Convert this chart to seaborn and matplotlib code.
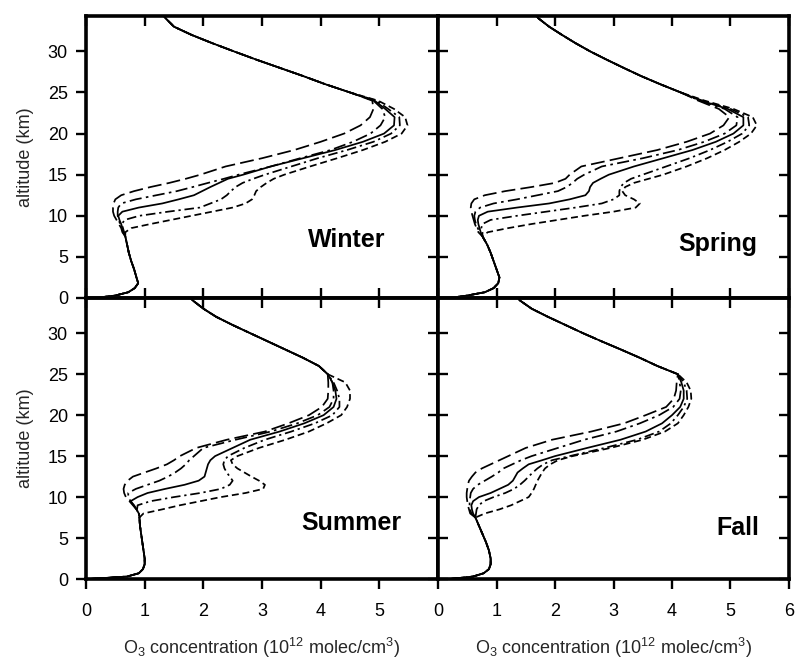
import matplotlib
matplotlib.use("Agg")
import matplotlib.pyplot as plt
import numpy as np
import pandas as pd
import seaborn as sns

# ---------------- data ----------------
seasons = ["Winter", "Spring", "Summer", "Fall"]
line_ids = ["L1", "L2", "L3", "L4", "L5"]

low_alt = [0, 0.3, 0.7, 1.2, 1.8, 2.5, 3.5, 4.5, 5.5, 6.5, 7.5]
mid_alt = [8, 8.5, 9, 9.5, 10, 10.5, 11, 11.5, 12, 12.5, 13, 13.5, 14, 14.5,
           15, 16, 17, 18, 19, 20, 21, 22, 23, 24]
up_alt = [25, 26, 27, 28, 29, 30, 31, 32, 33, 34, 35]

# Winter
winter_low = [0.15, 0.5, 0.72, 0.83, 0.89, 0.86, 0.82, 0.77, 0.73, 0.7, 0.67]
winter_l1 = [0.62, 0.6, 0.56, 0.52, 0.48, 0.46, 0.46, 0.47, 0.5, 0.6, 0.82, 1.1,
             1.42, 1.7, 1.95, 2.38, 3.0, 3.55, 4.0, 4.4, 4.68, 4.84, 4.9, 4.88]
winter_l2 = [0.63, 0.61, 0.58, 0.56, 0.54, 0.54, 0.55, 0.6, 0.85, 1.2, 1.55, 1.82,
             2.08, 2.35, 2.6, 3.15, 3.65, 4.17, 4.55, 4.85, 5.02, 5.1, 5.05, 4.9]
winter_l3 = [0.64, 0.62, 0.6, 0.57, 0.55, 0.62, 0.9, 1.3, 1.58, 1.84, 1.98, 2.12,
             2.27, 2.42, 2.68, 3.15, 3.7, 4.25, 4.72, 5.08, 5.25, 5.26, 5.1, 4.92]
winter_l4 = [0.65, 0.63, 0.61, 0.66, 0.91, 1.4, 1.94, 2.12, 2.3, 2.4, 2.47, 2.55,
             2.67, 2.85, 3.05, 3.5, 3.95, 4.45, 4.9, 5.2, 5.35, 5.34, 5.15, 4.95]
winter_l5 = [0.67, 0.77, 1.1, 1.45, 1.8, 2.15, 2.5, 2.72, 2.83, 2.87, 2.9, 2.98,
             3.08, 3.2, 3.38, 3.82, 4.28, 4.72, 5.1, 5.38, 5.48, 5.44, 5.25, 4.98]
winter_up = [4.5, 4.08, 3.7, 3.3, 2.9, 2.52, 2.15, 1.8, 1.5, 1.36, 1.25]

# Spring
spring_low = [0.2, 0.5, 0.8, 0.95, 1.03, 1.05, 1.0, 0.95, 0.9, 0.84, 0.76]
spring_l1 = [0.69, 0.66, 0.63, 0.61, 0.59, 0.57, 0.56, 0.57, 0.62, 0.8, 1.15, 1.6,
             2.0, 2.18, 2.25, 2.45, 3.1, 3.75, 4.25, 4.65, 4.88, 4.98, 4.8, 4.45]
spring_l2 = [0.71, 0.68, 0.65, 0.63, 0.62, 0.64, 0.72, 0.95, 1.35, 1.7, 2.05, 2.2,
             2.3, 2.38, 2.5, 2.8, 3.5, 4.1, 4.55, 4.9, 5.1, 5.12, 4.9, 4.48]
spring_l3 = [0.73, 0.71, 0.69, 0.68, 0.7, 0.85, 1.35, 1.9, 2.25, 2.52, 2.58, 2.6,
             2.65, 2.78, 2.92, 3.35, 3.85, 4.35, 4.75, 5.05, 5.22, 5.22, 4.95, 4.5]
spring_l4 = [0.76, 0.74, 0.76, 0.9, 1.35, 1.85, 2.35, 2.8, 3.0, 3.1, 3.1, 3.12,
             3.18, 3.3, 3.5, 3.9, 4.3, 4.65, 4.95, 5.2, 5.32, 5.3, 5.0, 4.52]
spring_l5 = [0.85, 1.2, 1.6, 2.05, 2.5, 3.0, 3.38, 3.45, 3.35, 3.2, 3.15, 3.2,
             3.35, 3.6, 3.85, 4.25, 4.6, 4.9, 5.15, 5.35, 5.45, 5.38, 5.05, 4.56]
spring_up = [4.15, 3.8, 3.47, 3.17, 2.88, 2.6, 2.35, 2.12, 1.9, 1.72, 1.6]

# Summer
summer_low = [0.05, 0.7, 0.9, 0.97, 1.0, 1.0, 0.98, 0.96, 0.94, 0.92, 0.91]
summer_l1 = [0.9, 0.86, 0.8, 0.74, 0.68, 0.65, 0.64, 0.66, 0.71, 0.8, 1.0, 1.2,
             1.38, 1.5, 1.6, 1.88, 2.4, 3.05, 3.45, 3.8, 4.02, 4.12, 4.13, 4.13]
summer_l2 = [0.9, 0.86, 0.81, 0.76, 0.72, 0.72, 0.85, 1.05, 1.25, 1.4, 1.52, 1.62,
             1.7, 1.76, 1.84, 2.0, 2.55, 3.15, 3.6, 3.95, 4.15, 4.22, 4.22, 4.2]
summer_l3 = [0.9, 0.86, 0.82, 0.76, 0.88, 1.05, 1.35, 1.68, 1.92, 2.02, 2.04, 2.06,
             2.08, 2.12, 2.2, 2.5, 2.8, 3.3, 3.72, 4.05, 4.22, 4.27, 4.25, 4.2]
summer_l4 = [0.9, 0.87, 0.88, 1.1, 1.5, 1.95, 2.3, 2.45, 2.5, 2.45, 2.4, 2.36,
             2.34, 2.36, 2.42, 2.7, 3.05, 3.5, 3.9, 4.2, 4.32, 4.32, 4.28, 4.22]
summer_l5 = [0.98, 1.3, 1.6, 1.95, 2.3, 2.72, 3.02, 3.05, 2.95, 2.82, 2.7, 2.58,
             2.5, 2.47, 2.58, 2.95, 3.4, 3.8, 4.1, 4.35, 4.45, 4.5, 4.5, 4.42]
summer_up = [4.12, 3.97, 3.7, 3.4, 3.1, 2.8, 2.5, 2.22, 2.0, 1.82, 1.7]

# Fall
fall_low = [0.2, 0.6, 0.78, 0.87, 0.9, 0.9, 0.87, 0.82, 0.76, 0.7, 0.64]
fall_l1 = [0.55, 0.53, 0.51, 0.5, 0.49, 0.49, 0.5, 0.51, 0.53, 0.58, 0.64, 0.75,
           0.9, 1.05, 1.2, 1.5, 1.95, 2.62, 3.18, 3.55, 3.9, 4.03, 4.07, 4.08]
fall_l2 = [0.57, 0.55, 0.54, 0.54, 0.55, 0.56, 0.6, 0.68, 0.8, 0.92, 1.03, 1.12,
           1.27, 1.42, 1.6, 2.05, 2.5, 3.05, 3.45, 3.78, 4.02, 4.13, 4.15, 4.13]
fall_l3 = [0.6, 0.58, 0.57, 0.6, 0.7, 0.9, 1.05, 1.2, 1.28, 1.32, 1.36, 1.45,
           1.55, 1.78, 2.0, 2.55, 3.12, 3.55, 3.83, 4.0, 4.14, 4.2, 4.2, 4.16]
fall_l4 = [0.65, 0.66, 0.7, 0.78, 0.95, 1.15, 1.3, 1.4, 1.48, 1.55, 1.62, 1.7,
           1.8, 1.95, 2.25, 2.85, 3.4, 3.78, 3.98, 4.1, 4.2, 4.26, 4.25, 4.2]
fall_l5 = [0.8, 1.05, 1.25, 1.4, 1.55, 1.6, 1.64, 1.67, 1.7, 1.74, 1.78, 1.83,
           1.92, 2.05, 2.3, 2.95, 3.5, 3.88, 4.1, 4.2, 4.28, 4.33, 4.32, 4.25]
fall_up = [4.1, 3.75, 3.45, 3.13, 2.8, 2.48, 2.18, 1.88, 1.6, 1.4, 1.3]

season_data = {
    "Winter": (winter_low, [winter_l1, winter_l2, winter_l3, winter_l4, winter_l5], winter_up),
    "Spring": (spring_low, [spring_l1, spring_l2, spring_l3, spring_l4, spring_l5], spring_up),
    "Summer": (summer_low, [summer_l1, summer_l2, summer_l3, summer_l4, summer_l5], summer_up),
    "Fall": (fall_low, [fall_l1, fall_l2, fall_l3, fall_l4, fall_l5], fall_up),
}

x_ticks_left = [0, 1, 2, 3, 4, 5]
x_ticks_right = [0, 1, 2, 3, 4, 5, 6]
y_ticks = [0, 5, 10, 15, 20, 25, 30]

rows = []
for s in seasons:
    low, mids, up = season_data[s]
    for lid, mid in zip(line_ids, mids):
        xs = list(low) + list(mid) + list(up)
        ys = list(low_alt) + list(mid_alt) + list(up_alt)
        for xv, yv in zip(xs, ys):
            rows.append({"season": s, "line": lid, "conc": xv, "alt": yv})
df = pd.DataFrame(rows)

# ---------------- style ----------------
sns.set_theme(style="ticks")
plt.rcParams["font.family"] = ["Liberation Sans", "DejaVu Sans"]
plt.rcParams["mathtext.fontset"] = "custom"
plt.rcParams["mathtext.rm"] = "Liberation Sans"
plt.rcParams["mathtext.it"] = "Liberation Sans:italic"
plt.rcParams["mathtext.bf"] = "Liberation Sans:bold"

line_styles = {
    "L1": (0, (8, 3)),
    "L2": (0, (7, 2.5, 1.5, 2.5)),
    "L3": "-",
    "L4": (0, (5.5, 2.2, 1.3, 2.2)),
    "L5": (0, (4, 2.2)),
}

fig = plt.figure(figsize=(7.97, 6.6), dpi=100)
W, H = 797.0, 660.0
xl, xm, xr = 86, 438, 789
yt, ym, yb = 16, 298, 579
positions = {
    "Winter": [xl / W, 1 - ym / H, (xm - xl) / W, (ym - yt) / H],
    "Spring": [xm / W, 1 - ym / H, (xr - xm) / W, (ym - yt) / H],
    "Summer": [xl / W, 1 - yb / H, (xm - xl) / W, (yb - ym) / H],
    "Fall": [xm / W, 1 - yb / H, (xr - xm) / W, (yb - ym) / H],
}
label_pos = {"Winter": (5.1, 7.0), "Spring": (5.45, 6.6),
             "Summer": (5.37, 6.8), "Fall": (5.5, 6.2)}

spine_lw = 2.6
tick_kw = dict(length=7, width=1.7, labelsize=13, colors="black")

for s in seasons:
    ax = fig.add_axes(positions[s])
    sub = df[df.season == s]
    for lid in line_ids:
        d = sub[sub.line == lid]
        sns.lineplot(data=d, x="conc", y="alt", orient="y", sort=False,
                     estimator=None, ax=ax, color="black", linewidth=1.25,
                     linestyle=line_styles[lid])
    ax.set_xlim(0, 6)
    ax.set_ylim(0, 34.3)
    ax.set_xlabel("")
    ax.set_ylabel("")
    for sp in ax.spines.values():
        sp.set_visible(True)
        sp.set_linewidth(spine_lw)
        sp.set_color("black")
    is_left = s in ("Winter", "Summer")
    is_bottom = s in ("Summer", "Fall")
    ax.set_yticks(y_ticks)
    ax.set_xticks(x_ticks_left if is_left else x_ticks_right)
    # y axis ticks
    if is_left:
        ax.tick_params(axis="y", direction="out", left=True, right=False,
                       labelleft=True, pad=6, **tick_kw)
        sec = ax.secondary_yaxis("right")
        sec.set_yticks(y_ticks)
        sec.tick_params(axis="y", direction="in", labelright=False, **tick_kw)
        sec.spines["right"].set_linewidth(spine_lw)
        ax.set_ylabel("altitude (km)", fontsize=13, labelpad=10)
    else:
        ax.tick_params(axis="y", direction="in", left=True, right=True,
                       labelleft=False, **tick_kw)
    # x axis ticks
    if is_bottom:
        ax.tick_params(axis="x", direction="out", bottom=True, top=False,
                       labelbottom=True, pad=10, **tick_kw)
        secx = ax.secondary_xaxis("top")
        secx.set_xticks(x_ticks_right)
        secx.tick_params(axis="x", direction="in", labeltop=False, **tick_kw)
        secx.spines["top"].set_linewidth(spine_lw)
        ax.set_xlabel("O$_3$ concentration (10$^{12}$ molec/cm$^3$)",
                      fontsize=13, labelpad=12)
    else:
        ax.tick_params(axis="x", direction="in", bottom=True, top=True,
                       labelbottom=False, **tick_kw)
    lx, ly = label_pos[s]
    ax.text(lx, ly, s, ha="right", va="center", fontsize=18,
            fontweight="bold", color="black")

fig.savefig("out.png", dpi=100)
